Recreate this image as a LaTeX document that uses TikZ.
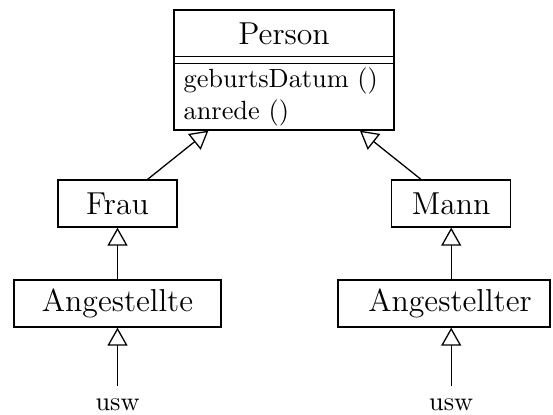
\documentclass[tikz,border=0pt]{standalone}
\usetikzlibrary{arrows.meta}
\begin{document}
\begin{tikzpicture}[x=0.3876pt,y=-0.3876pt, line width=0.5pt,
  bigf/.style={font=\fontsize{12.3}{15}\selectfont},
  smallf/.style={font=\fontsize{10.2}{12.7}\selectfont},
  cls/.style={draw, inner sep=0pt, minimum height=18.22pt, bigf},
  txt/.style={inner sep=0pt, smallf},
  inh/.style={-{Triangle[open,length=6.98pt,width=7.75pt]}}]
\useasboundingbox (0,0) rectangle (553,415);
% Person class
\node[draw, inner sep=0pt, minimum width=85.27pt, minimum height=46.51pt] (person) at (284,70) {};
\node[txt, bigf, anchor=base] (ptitle) at (284,45) {Person};
\node[txt, anchor=base west] (m1) at (183,87.3) {geburtsDatum ()};
\node[txt, anchor=base west] (m2) at (183,120) {anrede ()};
\coordinate (d1) at (0,56.5);
\coordinate (d2) at (0,63.8);
\draw (person.west |- d1) -- (person.east |- d1);
\draw (person.west |- d2) -- (person.east |- d2);
% subclasses
\node[cls, minimum width=46.12pt] (frau) at (117.5,203.5) {Frau};
\node[cls, minimum width=46.12pt] (mann) at (451.2,203.5) {Mann};
\node[cls, minimum width=80.23pt] (angw) at (117.5,303.5) {Angestellte};
\node[cls, minimum width=82.17pt] (angm) at (444,303.5) {\hspace*{4.65pt}Angestellter};
\node[txt, inner sep=4.6pt, anchor=base] (uswl) at (117.5,410) {usw};
\node[txt, inner sep=4.6pt, anchor=base] (uswr) at (451.2,410) {usw};
% inheritance
\draw[inh] (frau) -- (person);
\draw[inh] (mann) -- (person);
\draw[inh] (angw) -- (frau);
\draw[inh] (mann |- angm.north) -- (mann.south);
\draw[inh] (uswl.north) -- (angw.south);
\draw[inh] (uswr.north) -- (uswr.north |- angm.south);
\end{tikzpicture}
\end{document}
